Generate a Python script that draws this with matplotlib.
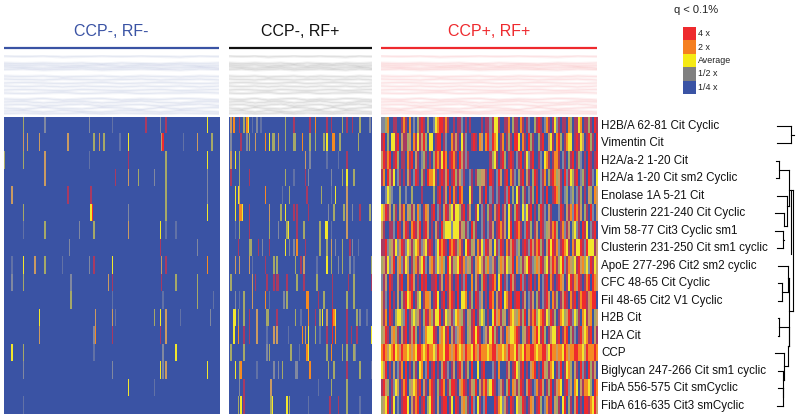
import numpy as np
import matplotlib
matplotlib.use("Agg")
import matplotlib.pyplot as plt
from matplotlib.colors import ListedColormap

W, H = 800, 418

peptides = ["H2B/A 62-81 Cit Cyclic", "Vimentin Cit", "H2A/a-2 1-20 Cit",
            "H2A/a 1-20 Cit sm2 Cyclic", "Enolase 1A 5-21 Cit",
            "Clusterin 221-240 Cit Cyclic", "Vim 58-77 Cit3 Cyclic sm1",
            "Clusterin 231-250 Cit sm1 cyclic", "ApoE 277-296 Cit2 sm2 cyclic",
            "CFC 48-65 Cit Cyclic", "Fil 48-65 Cit2 V1 Cyclic", "H2B Cit", "H2A Cit",
            "CCP", "Biglycan 247-266 Cit sm1 cyclic", "FibA 556-575 Cit smCyclic",
            "FibA 616-635 Cit3 smCyclic"]
group_names = ["CCP-, RF-", "CCP-, RF+", "CCP+, RF+"]
group_colors = ["#3a53a4", "#111111", "#ee2a2e"]
legend_labels = ["4 x", "2 x", "Average", "1/2 x", "1/4 x"]
legend_colors = ["#ee2a2e", "#f57f20", "#f5ea14", "#808080", "#3a53a4"]

# b blue, f faint, g grey, k khaki, t tan, m crimson, y yellow, o orange, r red
codes = "bfgktmyor"
code_colors = ["#3a53a4", "#6272a6", "#8088a0", "#a5a868", "#c99a62", "#a83a62",
               "#f2e62c", "#f58a22", "#ee2a2e"]

# sparse panels, "column+level" per patient
left_cells = [
    "13k 28g 59g 75f 98m 108g 112m 141y",
    "13t 16t 24t 44t 62k 66t 69k 80f 86y 109t 110r 124f 134t 144k",
    "0k 13k 28t 59f 86m 112k 141y",
    "28t 77m 86t 93k 104g 112k 141g",
    "5t 44m 60m 112k 141g",
    "13k 60y 61r 86g 112k 141y",
    "13f 28k 52g 62k 86t 108y 112f 119f",
    "45g 108m 134g",
    "5f 13y 21t 28k 40f 59g 62m 75y 109t 112m 141o",
    "5g 13k 46g 72t 75m 109m 119k 134k",
    "46k 75f 110f 134k 145f",
    "24y 63t 75t 77f 104k 108y 112t 122f 143g",
    "24t 62g 63o 75m 108m 112t",
    "5y 13k 62f 110g 119y",
    "13g 75g 108y 110g 112t 141y",
    "86y 104f",
    "13f",
]
middle_cells = [
    "1t 3o 7m 10k 12o 13y 16f 19g 22f 39k 45m 56m 60o 68m 71m 79k 82m 86m 91k 98g",
    "1g 8m 12g 14k 18t 25o 28y 30k 31k 34t 39k 45k 46k 51o 56k 60k 66k 68y 72o 73o 77k 90k",
    "1t 4y 7k 53t 56g 68f 76f 82m",
    "1m 7k 14m 39k 45f 53m 55g 71g 79k 82y 87k",
    "4y 6y 7t 25o 37f 42k 54m 64k 71f 74y 82t",
    "4y 7o 8o 9y 14m 28t 36k 39y 45m 47m 55m 69g 73k 80k 82t 86g 91m 98k",
    "4f 7k 14m 28k 34g 40k 41y 47m 52k 63k 67y 68y 71f 82t",
    "6m 14k 15k 20m 23g 28m 39y 42g 45g 47o 53m 63k 68k 71t 74g 79k 84m 86g 90f",
    "4t 7t 14t 16f 25m 31k 33k 46k 50m 52t 61f 68y 71k 76g 79k 84g 87f 99k",
    "1k 16t 18m 26m 31m 33m 34m 40m 47k 52m 61k 72m 83m 87k 99m",
    "4g 7f 10k 16t 25o 28f 38g 40k 54o 55o 62m 66k 72m 82k 87k",
    "3y 4y 6k 10k 14m 19t 26k 27k 33m 46k 50f 55o 60m 63k 65y 68t 72r 73o 74y 82m 89k 91g 96f",
    "3y 6o 10m 14m 19t 26f 31t 33t 41f 51o 53t 55y 60k 63f 68m 72r 74o 82m 85m 89m 99y",
    "1k 10k 26g 28k 43k 49f 54o 55y 68k 71o 79k 82k 87k 88g",
    "4y 7k 8o 19f 31g 34g 37k 46g 47g 56o 69k 73k 82m 91k 99f",
    "7g 10m 29t 62f 71k 82k",
    "6k 8y 10m 29k 30y 40y 42k 55f 70m 76m 82k 91f",
]

# dense panel, one letter per patient column
right_cells = [
    "ggkobbmmbbmo mbobgbkmrmbk bbgyorrmombb mbmmgbmbmbbb bbmbmmgmyymb bmmobkmmbomb mgbbkmrmbgom bmygmbmmbokb mmyobmmkmbrm",
    "mrbkbyymrbtm mktbomymtrkb yybmrrbmgbbo mtmbymgbbmrm botborgroybm obmkmbrrybom brkmbbkmrbbt ymborkbmoyyb mrmytbmrkmbr",
    "trmorbmrkbmm bomrbtmbgkmb mbkromyrobmr ombrtmgmbbbb bbbbbbmkymbm rkbmrmbgmrbm ygmrbbmgbyom bmoombgmbkmr bmkgbmbrmbmr",
    "mobrtmybgmbm btmbgrmbkmbr ooymbmrmtrbm rkmtgmbbgmbm kkttmbrmbgrt bmrbomgbkmrb tmbkrmbgmobk mroktmbrgmyk mrbgkmbrmgby",
    "bbgykgbbbkbb gbbkbbbbmbbb bbkbmrbmtbrb ombrobbbymbb btmbrbgmbgmb bmgrbkbymbkm bgmkbrbgmbrb bmrokmbgkbgk bgmkbmbtkbot",
    "ytrmtbkmbtmo btkmtbogbmot bmrbgmbtrmky myykmrbmtbbm ybgmbkmbtmrb mtbymbkrmbyg ymrbmbkrmgbt mbbbgrmbtmog romtbkmbrgbt",
    "tmbbmmgbrmbt rmbormtrbmrt bmbtmbrkyyyg yyymtkmgbrkm bbgmbgmtbmro mtbyrbmrombg rmkbmtbrmgkt morkbmogmtbk ygmbrmybgmrb",
    "mmrgktmygtrm gytmkyomgtym rmbgyrormbro rmkombyrmktb omygrmtbymgr mbomtrmgkbmr mgrtmorkmbtr yrmogmroymbo myyrmgryyymt",
    "ktmygtrbtogm ytbmkomtyrgb tomgytokbrym ktyrmogtkmbt oytmkogtmbko tmyktrbogkmt yrmgkotrmkym tromkyrgmotk ymrtokygrmyt",
    "gmtbrmbbtmrb bomrtbmbrmrb bmmrbmtbrmom bmrbmgrbbobt mbkrmbmrobyr bmgbrtmbbrgm bmrbmbobgmrb ombmrotbmyrm otrmbmorbrot",
    "tmgbrbmbtbkm ryorbmkybmoo tbmrybmrbmor mbrbyyobmkbr mgtbmbrobtmr byomrbmrrbmt bgmtbkmbgmrt bomkbmtrmbom rbmorrmtorrb",
    "tmobrmbkyykg rbmkyktmbkrm okmyyrbmyktm gyotkmbtkmrb mkykbmbyrtom ktbmoytkomkr btmorkyormyk rmkbmoyktrmg ykmboymtobkt",
    "ktrmbtokmbtm rbmtrkbmbgoy yyrmbtoymrbt mgtormbktmry rmbgtmyrkmbt mbotyyormbkt mrbtorymrkbm tyymrbmorbkm gbmrtyomrbtm",
    "orotyoryotro oyotoyrroyor ooytrooyrrot oroyotrooyro troooyorrtoo yotrooyrtoyr oorroyoorrty rootooyrotoo rrooytroooro",
    "ytrbmbtbgmob rbmbkmbyobgr bmrbmbtrmgbm tbmrtbmkbrbb ybmrbbbgmbob bbmtbmrykmrb mbtorbmbrtkm oybmgrbmyokb tmbrgmbrkmtb",
    "mrtkbmgytbmo rbktyomrbtmb ormbkmrobmkr rmbtormbmtkr btmorkyrmbgt mbkrbotmkrmb trmbgomrtbmk rbmtoybmrgtb oybtmooykbro",
    "ktyrbmybgbmr rybtmorbmrbk yrmbtbmrrbmy brmbtokmbrgb ymbgrbbbrmoy gtmbrmbytkrm bmotbmrkbgom rbtkmbyrbkmb trbmbrrmoyrt",
]

# faint profile lines above the heatmaps, depth in px below the band top
profile_traces = [
    [1, 1.5, 1, 2, 1.5, 1, 1.5, 1, 1.5, 2, 1, 1.5],
    [8, 8.5, 8, 8.5, 8, 9, 8, 8.5, 9, 8, 8.5, 8],
    [10, 10.5, 10, 11, 10.5, 10, 11, 10, 10.5, 10, 11, 10.5],
    [12, 12.5, 13, 12.5, 12, 13, 12.5, 12, 13, 12.5, 12, 13],
    [14.5, 14, 15, 14.5, 14, 15, 14.5, 14, 14.5, 15, 14, 14.5],
    [21, 21.5, 21, 22, 21.5, 21, 22, 21, 21.5, 22, 21, 21.5],
    [24, 24.5, 25, 24, 24.5, 25, 24.5, 24, 25, 24.5, 24, 25],
    [28, 27.5, 28, 28.5, 28, 27.5, 28.5, 28, 27.5, 28, 28.5, 28],
    [31, 31.5, 31, 32, 31, 31.5, 32, 31, 31.5, 31, 32, 31],
    [35, 34.5, 35, 35.5, 34.5, 35, 35.5, 35, 34.5, 35.5, 35, 34.5],
    [38, 38.5, 38, 37.5, 38.5, 38, 37.5, 38.5, 38, 38, 37.5, 38],
    [44, 44.5, 43.5, 45, 44, 43.5, 45, 44, 44.5, 43.5, 44, 45],
    [47, 46.5, 48, 47, 46.5, 48, 47, 46, 47.5, 48, 46.5, 47],
    [50, 49.5, 51, 50, 49, 51, 50, 49.5, 51, 50, 49, 50.5],
    [53, 54, 52.5, 53.5, 54, 52.5, 53, 54.5, 52.5, 54, 53, 52.5],
    [56, 55.5, 57, 55.5, 56.5, 57, 55.5, 56, 57, 55.5, 56, 57],
    [58.5, 58, 59, 58.5, 58, 59, 58, 58.5, 59, 58, 58.5, 59],
]

# dendrogram segments: distance start, row start, distance end, row end
dendro_segments = [
    (6.7, 0, 21.3, 0), (6.7, 1, 21.3, 1), (21.3, 0, 21.3, 1), (21.3, 0.5, 23.5, 0.5),
    (6, 2, 9.3, 2), (6, 3, 9.3, 3), (9.3, 2, 9.3, 3), (9.3, 2.5, 18.7, 2.5),
    (6.7, 4, 17.3, 4), (5, 5, 14, 5), (5, 6, 12.7, 6), (6.7, 7, 12.7, 7),
    (12.7, 6, 12.7, 7), (12.7, 6.5, 14, 6.5), (14, 5, 14, 5.7), (14, 5.7, 17.3, 5.7),
    (17.3, 4, 17.3, 5.7), (17.3, 4.6, 18.7, 4.6), (18.7, 2.5, 18.7, 4.6),
    (18.7, 3.67, 23.3, 3.67), (23.3, 3.67, 23.3, 10.6), (21.3, 3.67, 21.3, 7.3),
    (8.3, 8, 18.3, 8), (8.3, 9, 11.7, 9), (8.3, 10, 11.7, 10), (11.7, 9, 11.7, 10),
    (11.7, 9.5, 18.3, 9.5), (18.3, 8, 18.3, 9.5), (18.3, 8.7, 19.3, 8.7),
    (8, 11, 9, 11), (8, 12, 9, 12), (9, 11, 9, 12), (9, 11.5, 19, 11.5),
    (19, 11.5, 19, 12.6), (5, 13, 14, 13), (8.3, 14, 13.3, 14), (8.3, 15, 12.7, 15),
    (7, 16, 12.7, 16), (12.7, 15, 12.7, 16), (12.7, 15.5, 13.3, 15.5),
    (13.3, 14, 13.3, 15.5), (13.3, 14.5, 14, 14.5), (14, 13, 14, 14.5),
    (14, 13.75, 18.3, 13.75), (18.3, 12.6, 18.3, 13.75), (18.3, 12.6, 19.3, 12.6),
    (19.3, 8.7, 19.3, 12.6), (19.3, 10.6, 23.3, 10.6),
]

panel_x = [(4, 219.5), (229, 372), (381, 597)]
sans = ["Liberation Sans", "DejaVu Sans"]


def px_axes(fig, x0, y0, x1, y1):
    # axes from image pixel box, y counted from the top
    ax = fig.add_axes([x0 / W, 1 - y1 / H, (x1 - x0) / W, (y1 - y0) / H])
    ax.axis("off")
    return ax


def sparse_to_matrix(rows, ncols):
    mat = np.zeros((len(rows), ncols), dtype=int)
    for i, row in enumerate(rows):
        for cell in row.split():
            mat[i, int(cell[:-1])] = codes.index(cell[-1])
    return mat


def dense_to_matrix(rows):
    joined = [r.replace(" ", "") for r in rows]
    return np.array([[codes.index(c) for c in r] for r in joined])


fig = plt.figure(figsize=(W / 100, H / 100), dpi=100, facecolor="white")
cmap = ListedColormap(code_colors)
matrices = [sparse_to_matrix(left_cells, 150), sparse_to_matrix(middle_cells, 100),
            dense_to_matrix(right_cells)]

for (x0, x1), name, color, mat in zip(panel_x, group_names, group_colors, matrices):
    ax = px_axes(fig, x0, 117, x1, 414.5)
    ax.imshow(mat, cmap=cmap, vmin=0, vmax=len(codes) - 1, aspect="auto",
              interpolation="nearest")

    # profile band
    ax = px_axes(fig, x0, 55, x1, 115)
    for trace in profile_traces:
        ax.plot(np.linspace(0, 1, len(trace)), trace, color=color, lw=2.2, alpha=0.065)
        ax.plot(np.linspace(0, 1, len(trace)), trace, color=color, lw=0.4, alpha=0.12)
    ax.set_xlim(0, 1)
    ax.set_ylim(60, 0)

    # title and rule
    ax = px_axes(fig, x0, 15, x1, 50)
    ax.set_xlim(0, 1)
    ax.set_ylim(35, 0)
    ax.plot([0, 1], [33, 33], color=color, lw=1.6, solid_capstyle="butt")
    ax.text(0.5, 17, name, color=color, ha="center", va="center", family=sans,
            fontsize=11.5)

# legend
ax = px_axes(fig, 682.7, 27.3, 695.7, 94)
ax.imshow(np.arange(5).reshape(5, 1), cmap=ListedColormap(legend_colors), aspect="auto",
          interpolation="nearest")
ax = px_axes(fig, 660, 0, 800, 100)
ax.set_xlim(660, 800)
ax.set_ylim(100, 0)
ax.text(696, 10, "q < 0.1%", ha="center", va="center", family=sans, fontsize=8, color="#222222")
for i, label in enumerate(legend_labels):
    ax.text(698, 34 + i * 13.3, label, ha="left", va="center", family=sans, fontsize=6.4,
            color="#222222")

# row labels
ax = px_axes(fig, 598, 117, 770, 414.5)
ax.set_xlim(598, 770)
ax.set_ylim(16.5, -0.5)
for i, label in enumerate(peptides):
    ax.text(601, i, label, ha="left", va="center", family=sans, fontsize=8.4, color="#111111")

# dendrogram
ax = px_axes(fig, 770, 117, 800, 414.5)
ax.set_xlim(0, 30)
ax.set_ylim(16.5, -0.5)
for d0, r0, d1, r1 in dendro_segments:
    ax.plot([d0, d1], [r0, r1], color="black", lw=0.8, solid_capstyle="projecting")

fig.savefig("out.png", dpi=100)
